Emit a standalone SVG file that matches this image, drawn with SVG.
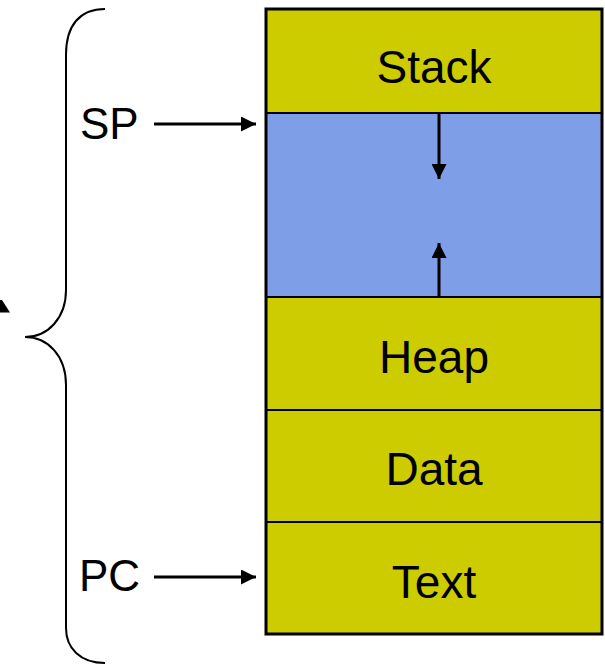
<svg xmlns="http://www.w3.org/2000/svg" width="605" height="665" viewBox="0 0 605 665">
  <defs>
    <marker id="head" viewBox="0 0 10 10" refX="10" refY="5" markerWidth="5" markerHeight="5" markerUnits="strokeWidth" orient="auto">
      <path d="M0,0 L10,5 L0,10 Z" fill="#000"/>
    </marker>
  </defs>
  <style>
    .seg { stroke: #000; stroke-width: 2; }
    .yellow { fill: #CCCC00; }
    .blue { fill: #7F9EE8; }
    .label { font-family: "Liberation Sans", Arial, sans-serif; font-size: 46px; fill: #000; text-anchor: middle; }
    .reg { font-family: "Liberation Sans", Arial, sans-serif; font-size: 44px; fill: #000; }
    .conn { stroke: #000; stroke-width: 3; fill: none; marker-end: url(#head); }
  </style>

  <!-- memory segments -->
  <g id="stack">
    <rect class="yellow seg" x="266" y="9" width="336" height="104"/>
    <text class="label" x="434" y="83">Stack</text>
  </g>
  <g id="free">
    <rect class="blue seg" x="266" y="113" width="336" height="184"/>
  </g>
  <g id="heap">
    <rect class="yellow seg" x="266" y="297" width="336" height="113"/>
    <text class="label" x="434" y="373">Heap</text>
  </g>
  <g id="data">
    <rect class="yellow seg" x="266" y="410" width="336" height="112"/>
    <text class="label" x="434" y="485">Data</text>
  </g>
  <g id="text">
    <rect class="yellow seg" x="266" y="522" width="336" height="112"/>
    <text class="label" x="434" y="598">Text</text>
  </g>
  <!-- outer frame -->
  <rect x="266" y="9" width="336" height="625" fill="none" stroke="#000" stroke-width="3"/>

  <!-- register labels -->
  <g id="sp">
    <text class="reg" x="80" y="139">SP</text>
  </g>
  <g id="pc">
    <text class="reg" x="79" y="591">PC</text>
  </g>

  <!-- brace spanning the address space -->
  <g id="brace">
    <path d="M105,9 C80,9 66,25 66,55 L66,290 C66,318 48,337 25,337 C48,337 66,356 66,385 L66,628 C66,648 80,663 105,663" fill="none" stroke="#000" stroke-width="2"/>
    <polygon points="0,300 2,300 10,312.5 0,312.5" fill="#000"/>
  </g>

  <!-- connectors -->
  <g id="connectors">
    <line class="conn" x1="154" y1="124" x2="256" y2="124"/>
    <line class="conn" x1="154" y1="577" x2="256" y2="577"/>
    <line class="conn" x1="439" y1="114" x2="439" y2="179"/>
    <line class="conn" x1="439" y1="296" x2="439" y2="243"/>
  </g>
</svg>
